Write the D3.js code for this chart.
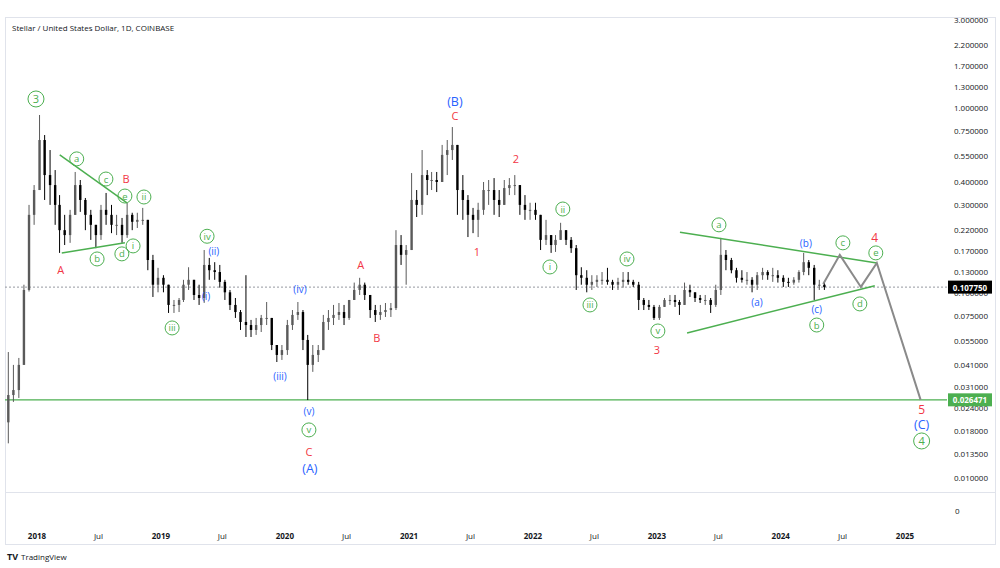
<!DOCTYPE html>
<html><head><meta charset="utf-8">
<script src="https://cdn.jsdelivr.net/npm/d3@7"></script>
<style>body{margin:0;background:#fff;} svg{display:block;font-family:"Open Sans",sans-serif;}</style>
</head><body><svg id="c" width="1000" height="568"></svg>
<script>
// ---------- data (semi-monthly OHLC) ----------
const seriesStart = "2017-10-01";
const firstOpen = 0.0200;
const highs = [0.0480,0.0409,0.0446,0.111,0.300,0.384,0.919,0.716,0.594,0.463,
0.339,0.265,0.282,0.452,0.409,0.327,0.282,0.234,0.300,0.348,
0.300,0.265,0.255,0.308,0.272,0.272,0.289,0.249,0.161,0.137,
0.125,0.111,0.0918,0.0941,0.118,0.138,0.118,0.111,0.171,0.155,
0.147,0.142,0.118,0.104,0.0941,0.0810,0.125,0.0716,0.0734,0.0762,
0.0895,0.0734,0.0524,0.0524,0.0716,0.0810,0.0895,0.0810,0.0594,0.0524,
0.0524,0.0762,0.0810,0.0863,0.0884,0.0863,0.0918,0.114,0.121,0.114,
0.0977,0.0863,0.0863,0.0884,0.0884,0.219,0.206,0.182,0.446,0.361,
0.594,0.463,0.452,0.452,0.633,0.673,0.791,0.633,0.435,0.339,
0.289,0.308,0.399,0.409,0.419,0.361,0.409,0.419,0.435,0.384,
0.339,0.308,0.308,0.265,0.249,0.206,0.206,0.240,0.219,0.201,
0.182,0.138,0.133,0.125,0.125,0.130,0.137,0.118,0.121,0.130,
0.130,0.118,0.115,0.0941,0.0918,0.0863,0.0863,0.0941,0.0977,0.0977,
0.0918,0.114,0.111,0.101,0.0977,0.0977,0.0941,0.111,0.199,0.171,
0.155,0.137,0.133,0.130,0.122,0.130,0.137,0.133,0.137,0.133,
0.125,0.121,0.122,0.133,0.165,0.151,0.142,0.118,0.114];
const lows = [0.0154,0.0258,0.0271,0.0409,0.102,0.234,0.361,0.319,0.300,0.234,
0.165,0.182,0.187,0.265,0.275,0.219,0.194,0.175,0.194,0.234,
0.211,0.206,0.187,0.199,0.219,0.225,0.234,0.133,0.0953,0.101,
0.101,0.0781,0.0781,0.0790,0.0895,0.104,0.0918,0.0863,0.0885,0.118,
0.118,0.107,0.0918,0.0810,0.0734,0.0632,0.0579,0.0579,0.0594,0.0616,
0.0672,0.0492,0.0424,0.0435,0.0463,0.0632,0.0716,0.0492,0.0264,0.0375,
0.0424,0.0492,0.0632,0.0672,0.0716,0.0672,0.0716,0.0918,0.0977,0.0918,
0.0734,0.0698,0.0716,0.0743,0.0743,0.0810,0.142,0.111,0.171,0.258,
0.265,0.339,0.361,0.352,0.399,0.435,0.525,0.265,0.249,0.201,
0.211,0.201,0.265,0.300,0.265,0.258,0.300,0.339,0.339,0.265,
0.249,0.249,0.249,0.171,0.182,0.165,0.167,0.194,0.182,0.165,
0.104,0.111,0.101,0.104,0.108,0.111,0.111,0.104,0.104,0.107,
0.111,0.108,0.0810,0.0810,0.0810,0.0716,0.0716,0.0842,0.0863,0.0842,
0.0762,0.0863,0.0953,0.0895,0.0884,0.0863,0.0781,0.0842,0.0977,0.133,
0.128,0.114,0.114,0.111,0.101,0.104,0.118,0.118,0.115,0.114,
0.108,0.108,0.111,0.114,0.125,0.125,0.0918,0.104,0.104];
const closes = [0.0281,0.0299,0.0409,0.104,0.265,0.361,0.673,0.435,0.384,0.300,
0.219,0.206,0.265,0.384,0.319,0.265,0.234,0.206,0.282,0.265,
0.234,0.234,0.206,0.265,0.243,0.249,0.249,0.151,0.111,0.121,
0.111,0.0863,0.0863,0.0918,0.111,0.118,0.0977,0.0941,0.142,0.133,
0.130,0.115,0.101,0.0863,0.0790,0.0698,0.0672,0.0632,0.0672,0.0734,
0.0734,0.0524,0.0463,0.0492,0.0672,0.0762,0.0790,0.0558,0.0409,0.0463,
0.0492,0.0698,0.0734,0.0762,0.0790,0.0734,0.0918,0.104,0.111,0.0977,
0.0810,0.0762,0.0790,0.0810,0.0830,0.182,0.161,0.171,0.319,0.300,
0.435,0.409,0.409,0.399,0.559,0.594,0.633,0.361,0.319,0.265,
0.249,0.282,0.361,0.361,0.319,0.300,0.370,0.384,0.384,0.300,
0.282,0.282,0.265,0.194,0.206,0.182,0.194,0.219,0.194,0.175,
0.125,0.121,0.111,0.115,0.118,0.118,0.115,0.111,0.115,0.118,
0.115,0.111,0.0918,0.0863,0.0842,0.0734,0.0842,0.0918,0.0918,0.0895,
0.0863,0.104,0.101,0.0941,0.0918,0.0918,0.0863,0.104,0.161,0.151,
0.133,0.121,0.118,0.118,0.111,0.125,0.130,0.125,0.125,0.121,
0.115,0.114,0.118,0.130,0.147,0.137,0.111,0.111,0.10775];

const priceTicks = [3,2.2,1.7,1.3,1,0.75,0.55,0.4,0.3,0.22,0.17,0.13,0.1,0.075,0.055,0.041,0.031,0.024,0.018,0.0135,0.01];
const yearTicks = ["2018-01-01","2019-01-01","2020-01-01","2021-01-01","2022-01-01","2023-01-01","2024-01-01","2025-01-01"];
const julTicks = ["2018-07-01","2019-07-01","2020-07-01","2021-07-01","2022-07-01","2023-07-01","2024-07-01"];
const lastPrice = 0.10775;
const supportPrice = 0.026471;

// projected path (grey)
const projDates = ["2024-05-05","2024-06-23","2024-08-24","2024-10-10","2025-02-16"];
const projPrices = [0.112,0.161,0.108,0.1455,0.026471];

// green trend lines
const trendStartDates = ["2018-03-09","2018-03-15","2023-03-10","2023-03-31"];
const trendStartPrices = [0.559,0.165,0.2136,0.0609];
const trendEndDates = ["2018-09-23","2018-09-17","2024-10-10","2024-10-04"];
const trendEndPrices = [0.308,0.187,0.1455,0.1096];

// wave labels
const annTexts = ["3","a","c","B","e","ii","i","b","d","A",
"iv","(ii)","(i)","iii","(iv)","(iii)","(v)","v","C","(A)",
"A","B","(B)","C","1","2","ii","i","iv","iii",
"v","3","a","(a)","(b)","(c)","b","c","4","e",
"d","5","(C)","4"];
const annKinds = ["G","g","g","r","g","g","g","g","g","r",
"g","b","b","g","b","b","b","g","r","B",
"r","r","B","r","r","r","g","g","g","g",
"g","r","g","b","b","b","g","g","R","g",
"g","R","B","G"];
const annDates = ["2017-12-29","2018-04-28","2018-07-23","2018-09-20","2018-09-17","2018-11-12","2018-10-11","2018-06-27","2018-09-08","2018-03-12",
"2019-05-17","2019-06-06","2019-05-14","2019-02-03","2020-02-15","2019-12-18","2020-03-12","2020-03-12","2020-03-12","2020-03-15",
"2020-08-12","2020-09-28","2021-05-16","2021-05-16","2021-07-20","2021-11-12","2022-03-30","2022-02-20","2022-10-05","2022-06-18",
"2023-01-04","2023-01-01","2023-07-03","2023-10-23","2024-03-15","2024-04-16","2024-04-16","2024-07-02","2024-10-04","2024-10-07",
"2024-08-21","2025-02-19","2025-02-19","2025-02-19"];
const annPrices = [1.122,0.532,0.414,0.419,0.335,0.331,0.180,0.153,0.163,0.135,
0.203,0.169,0.0965,0.0648,0.1053,0.0357,0.0230,0.0182,0.0139,0.01119,
0.142,0.0572,1.094,0.908,0.167,0.532,0.285,0.1385,0.153,0.0863,
0.0624,0.0498,0.234,0.0895,0.187,0.0820,0.0672,0.187,0.201,0.165,
0.0874,0.0236,0.0194,0.01586];

// ---------- drawing ----------
const svg = d3.select("#c");
const P = d3.utcParse("%Y-%m-%d");
const x = d3.scaleUtc().domain([P("2018-01-01"), P("2025-01-01")]).range([37, 905]);
const y = d3.scaleLog().domain([0.01, 3]).range([478, 20]);

const GREEN = "#4caf50", RED = "#f23645", BLUE = "#2962ff";

// frame
svg.append("rect").attr("x",5.5).attr("y",17.5).attr("width",990).attr("height",527)
  .attr("fill","none").attr("stroke","#e0e3eb");
svg.append("line").attr("x1",5).attr("x2",995).attr("y1",492.5).attr("y2",492.5).attr("stroke","#e0e3eb");

// title
svg.append("text").attr("x",12).attr("y",31).attr("font-size",8).attr("fill","#131722")
  .text("Stellar / United States Dollar, 1D, COINBASE");

// clip
svg.append("defs").append("clipPath").attr("id","clip").append("rect")
  .attr("x",5).attr("y",18).attr("width",942).attr("height",474);
const g = svg.append("g").attr("clip-path","url(#clip)");

// horizontal levels
g.append("line").attr("x1",5).attr("x2",948).attr("y1",y(lastPrice)).attr("y2",y(lastPrice))
  .attr("stroke","#9598a1").attr("stroke-dasharray","2,2").attr("stroke-width",1);
g.append("line").attr("x1",5).attr("x2",948).attr("y1",y(supportPrice)).attr("y2",y(supportPrice))
  .attr("stroke",GREEN).attr("stroke-width",1.2);

// candles
const start = P(seriesStart);
const bars = closes.map((c,k)=>{
  const d = new Date(Date.UTC(start.getUTCFullYear(), start.getUTCMonth()+Math.floor(k/2), k%2?16:1));
  const mid = new Date(d.getTime()+7.5*86400000);
  const o = k===0 ? firstOpen : closes[k-1];
  return {t:mid,o:o,h:highs[k],l:lows[k],c:c};
});
const bw = 2.4;
const cg = g.append("g");
bars.forEach(b=>{
  const col = b.c>=b.o ? "#5a5a5a" : "#000";
  const xx = x(b.t);
  cg.append("line").attr("x1",xx).attr("x2",xx).attr("y1",y(b.h)).attr("y2",y(b.l))
    .attr("stroke",col).attr("stroke-width",1);
  const top = y(Math.max(b.o,b.c)), bot = y(Math.min(b.o,b.c));
  cg.append("rect").attr("x",xx-bw/2).attr("y",top).attr("width",bw).attr("height",Math.max(1,bot-top))
    .attr("fill",col);
});

// trend lines
trendStartDates.forEach((d,i)=>{
  g.append("line").attr("x1",x(P(d))).attr("y1",y(trendStartPrices[i]))
    .attr("x2",x(P(trendEndDates[i]))).attr("y2",y(trendEndPrices[i]))
    .attr("stroke",GREEN).attr("stroke-width",1.5);
});

// projection
const line = d3.line().x((d,i)=>x(P(projDates[i]))).y((d,i)=>y(projPrices[i]));
g.append("path").attr("d",line(projDates)).attr("fill","none").attr("stroke","#8a8a8a").attr("stroke-width",2);

// annotations
annTexts.forEach((t,i)=>{
  const k = annKinds[i];
  const xx = x(P(annDates[i])), yy = y(annPrices[i]);
  if(k==="g"||k==="G"){
    const r = k==="G"?8:7;
    g.append("circle").attr("cx",xx).attr("cy",yy).attr("r",r).attr("fill","none")
      .attr("stroke",GREEN).attr("stroke-width",1);
    g.append("text").attr("x",xx).attr("y",yy).attr("text-anchor","middle").attr("dominant-baseline","central")
      .attr("font-size",k==="G"?11:9.5).attr("fill",GREEN).text(t);
  } else {
    const col = (k==="r"||k==="R")?RED:BLUE;
    const fs = k==="r"?11 : k==="R"?12 : k==="B"?12.5 : 10;
    g.append("text").attr("x",xx).attr("y",yy).attr("text-anchor","middle").attr("dominant-baseline","central")
      .attr("font-size",fs).attr("fill",col).text(t);
  }
});

// price axis
const ax = d3.axisRight(y).tickValues(priceTicks).tickFormat(d=>d.toFixed(6)).tickSize(0).tickPadding(0);
const axg = svg.append("g").attr("transform","translate(988,0)").call(ax);
axg.select(".domain").remove();
axg.selectAll("text").attr("text-anchor","end").attr("font-size",8).attr("fill","#131722")
  .attr("font-family","Open Sans, sans-serif");

// price labels (drawn over the axis labels, as in the reference)
function priceTag(p, bg){
  const yy = y(p);
  svg.append("rect").attr("x",948).attr("y",yy-6.5).attr("width",44).attr("height",13).attr("fill",bg);
  svg.append("text").attr("x",970).attr("y",yy).attr("text-anchor","middle").attr("dominant-baseline","central")
    .attr("font-size",8).attr("font-weight","bold").attr("fill","#fff").text(p.toFixed(6));
}
priceTag(lastPrice,"#000");
priceTag(supportPrice,GREEN);

// lower pane zero
svg.append("text").attr("x",955).attr("y",510).attr("dominant-baseline","central")
  .attr("font-size",8).attr("fill","#131722").text("0");

// time axis
const tg = svg.append("g");
yearTicks.forEach(d=>{
  tg.append("text").attr("x",x(P(d))).attr("y",535).attr("text-anchor","middle").attr("dominant-baseline","central")
    .attr("font-size",8).attr("font-weight","bold").attr("fill","#131722").text(d.slice(0,4));
});
julTicks.forEach(d=>{
  tg.append("text").attr("x",x(P(d))).attr("y",535).attr("text-anchor","middle").attr("dominant-baseline","central")
    .attr("font-size",8).attr("fill","#131722").text("Jul");
});

// logo
svg.append("text").attr("x",7).attr("y",560).attr("font-size",9).attr("font-weight","bold").attr("fill","#131722").text("TV");
svg.append("text").attr("x",21).attr("y",560).attr("font-size",8).attr("fill","#131722").text("TradingView");
</script></body></html>
